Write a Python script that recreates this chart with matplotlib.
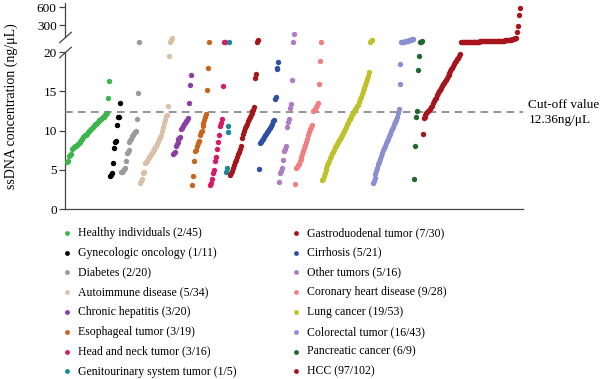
import numpy as np
import matplotlib
matplotlib.use("Agg")
import matplotlib.pyplot as plt
from matplotlib.transforms import blended_transform_factory

OUTPUT_PNG = "out.png"

plt.rcParams["font.family"] = ["Liberation Serif", "DejaVu Serif"]

CUTOFF = 12.36

# group names and point values (sorted)
labels = [
    "Healthy individuals (2/45)", "Gynecologic oncology (1/11)", "Diabetes (2/20)",
    "Autoimmune disease (5/34)", "Chronic hepatitis (3/20)", "Esophageal tumor (3/19)",
    "Head and neck tumor (3/16)", "Genitourinary system tumor (1/5)",
    "Gastroduodenal tumor (7/30)", "Cirrhosis (5/21)", "Other tumors (5/16)",
    "Coronary heart disease (9/28)", "Lung cancer (19/53)", "Colorectal tumor (16/43)",
    "Pancreatic cancer (6/9)", "HCC (97/102)",
]
colors = [
    "#3cb54a", "#000000", "#9b9b9b", "#d9c0a6", "#8c3fa3", "#c8641e",
    "#d81b66", "#16899a", "#a3161c", "#2f4ea4", "#b07cc6", "#f07f80",
    "#bfc12a", "#8a8fd2", "#1e6a2e", "#a8141c",
]

healthy = [6.0, 6.2, 6.8, 6.9, 7.0, 7.7, 7.8, 7.9, 8.0, 8.1, 8.2, 8.3, 8.4, 8.5, 8.6,
           8.8, 9.0, 9.2, 9.3, 9.4, 9.5, 9.6, 9.8, 10.0, 10.1, 10.2, 10.4, 10.5, 10.6,
           10.8, 10.9, 11.0, 11.1, 11.3, 11.4, 11.5, 11.6, 11.7, 11.8, 11.9, 12.0, 12.1,
           12.2, 14.1, 16.3]
gyneco = [4.2, 4.4, 4.6, 5.9, 7.8, 8.5, 8.7, 10.7, 11.7, 11.8, 13.5]
diabetes = [4.7, 4.8, 4.9, 5.1, 5.3, 6.1, 7.1, 7.3, 7.6, 8.6, 8.8, 9.0, 9.3, 9.5, 9.7,
            9.8, 9.9, 11.5, 14.8, 125]
autoimmune = [3.4, 3.6, 3.8, 4.6, 4.8, 5.9, 6.0, 6.2, 6.4, 6.6, 6.8, 7.0, 7.2, 7.4, 7.6,
              7.7, 7.9, 8.1, 8.3, 8.6, 8.9, 9.2, 9.5, 9.9, 10.5, 11.0, 11.3, 11.9, 12.0,
              13.2, 19.5, 127, 150, 170]
hepatitis = [7.0, 7.1, 7.3, 8.1, 8.3, 8.5, 8.9, 9.1, 9.2, 10.2, 10.4, 10.6, 10.8, 11.0,
             11.2, 11.4, 11.6, 13.5, 15.8, 17.1]
esophageal = [3.1, 4.2, 6.2, 7.4, 7.5, 8.0, 8.4, 8.7, 9.5, 9.8, 10.0, 10.6, 11.0, 11.4,
              11.8, 12.1, 15.2, 18.0, 125]
headneck = [3.1, 3.4, 3.8, 4.6, 5.0, 6.1, 6.6, 7.7, 8.6, 9.5, 10.6, 11.0, 11.5, 15.7,
            125, 126]
genito = [4.7, 5.2, 9.8, 10.6, 125]
gastro = [4.4, 4.6, 4.9, 5.2, 5.6, 6.0, 6.3, 6.6, 7.0, 7.3, 7.7, 8.0, 9.1, 9.6, 10.0,
          10.3, 10.6, 10.9, 11.2, 11.5, 11.8, 12.0, 12.2, 12.5, 12.6, 13.0, 16.7, 17.2,
          130, 150]
cirrhosis = [5.1, 8.4, 8.6, 8.8, 9.0, 9.2, 9.4, 9.6, 9.8, 10.0, 10.2, 10.4, 10.6, 10.9,
             11.2, 11.4, 14.0, 14.3, 17.8, 18.0, 18.7]
other = [3.5, 4.6, 4.9, 5.2, 6.3, 7.4, 7.7, 8.0, 10.5, 11.1, 11.5, 12.9, 13.4, 16.5,
         125, 210]
coronary = [3.2, 5.2, 5.4, 5.6, 5.8, 6.1, 6.4, 6.7, 7.0, 7.4, 7.8, 8.2, 8.6, 9.0, 9.4,
            9.8, 10.2, 10.5, 10.7, 12.5, 12.6, 12.8, 13.0, 13.3, 13.5, 16.0, 18.9, 125]
lung = [3.7, 3.9, 4.2, 4.6, 5.0, 5.3, 5.6, 5.9, 6.2, 6.5, 6.8, 7.1, 7.3, 7.6, 7.9, 8.1,
        8.3, 8.6, 8.8, 9.0, 9.2, 9.4, 9.7, 9.9, 10.2, 10.5, 10.8, 11.0, 11.3, 11.5, 11.7,
        11.9, 12.1, 12.3, 12.5, 12.7, 12.9, 13.1, 13.3, 13.6, 14.0, 14.3, 14.7, 15.0, 15.4,
        15.8, 16.2, 16.6, 17.0, 17.5, 130, 140, 150]
colorectal = [3.4, 3.6, 4.0, 4.5, 4.9, 5.3, 5.7, 6.0, 6.4, 6.8, 7.2, 7.5, 7.8, 8.1, 8.4,
              8.7, 9.0, 9.3, 9.6, 9.9, 10.2, 10.5, 10.8, 11.1, 11.4, 11.8, 12.2, 12.8,
              16.0, 18.5, 124, 126, 128, 130, 132, 134, 137, 140, 143, 146, 150, 153, 156]
pancreatic = [3.9, 8.0, 11.7, 12.5, 17.7, 19.5, 125, 130, 135]
hcc = [9.6, 11.6, 11.8, 12.0, 12.2,
       12.4, 12.5, 12.6, 12.8, 13.0, 13.2, 13.5, 13.8, 14.0, 14.2, 14.5, 14.8, 15.0, 15.2,
       15.4, 15.7, 15.9, 16.1, 16.3, 16.5, 16.7, 16.9, 17.1, 17.3, 17.6, 17.8, 18.0, 18.2,
       18.5, 18.7, 18.9, 19.1, 19.3, 19.5, 19.8,
       124, 124, 125, 125, 125, 126, 126, 126, 127, 127, 127, 128, 128, 128, 129, 129,
       129, 130, 130, 130, 131, 131, 131, 132, 132, 132, 133, 133, 133, 134, 134, 134,
       135, 135, 135, 136, 136, 137, 137, 138, 138, 139, 139, 140, 140, 141, 142, 143,
       144, 145, 146, 148, 150, 153, 156, 160, 165, 172,
       226, 290, 467, 590]

groups = [healthy, gyneco, diabetes, autoimmune, hepatitis, esophageal, headneck, genito,
          gastro, cirrhosis, other, coronary, lung, colorectal, pancreatic, hcc]

yticks = [0, 5, 10, 15, 20, 300, 600]

# piecewise broken scale: 0-20 linear, 20-300 and 300-600 squeezed on top
SCALE_IN = [0, 20, 300, 600, 800]
SCALE_OUT = [0, 20, 23.41, 25.71, 27.24]


def forward(v):
    return np.interp(v, SCALE_IN, SCALE_OUT)


def inverse(t):
    return np.interp(t, SCALE_OUT, SCALE_IN)


def make_plot():
    fig = plt.figure(figsize=(6, 3.79), dpi=100)
    ax = fig.add_axes([65 / 600, 1 - 209.3 / 379, 458 / 600, 206.3 / 379])
    ax.set_yscale("function", functions=(forward, inverse))

    start = 0
    handles = []
    for vals, col, lab in zip(groups, colors, labels):
        xs = np.arange(start, start + len(vals))
        h = ax.scatter(xs, vals, s=15, color=col, linewidths=0, label=lab, zorder=3)
        handles.append(h)
        start += len(vals)

    ax.set_xlim(-2.1, start + 2.5)
    ax.set_ylim(0, 670)
    ax.set_yticks(yticks)
    ax.set_yticklabels([str(t) for t in yticks])
    ax.set_xticks([])
    ax.tick_params(axis="y", direction="out", length=4, width=0.9, color="#444444",
                   labelsize=9.5, pad=2)

    for s in ["top", "right", "left"]:
        ax.spines[s].set_visible(False)
    ax.spines["bottom"].set_color("#444444")
    ax.spines["bottom"].set_linewidth(0.9)

    # left axis drawn by hand, with a gap and break marks
    trans = ax.get_yaxis_transform()
    ax.plot([0, 0], [0, 20], color="#444444", lw=0.9, transform=trans, clip_on=False)
    ax.plot([0, 0], [175, 670], color="#444444", lw=0.9, transform=trans, clip_on=False)
    ax.plot([0, 0], [20, 175], color="#444444", lw=0, marker=[(-1, -0.9), (1, 0.9)],
            markersize=9, mec="#444444", mew=0.9, transform=trans, clip_on=False)

    # cut-off line
    ax.axhline(CUTOFF, color="#777777", lw=1.1, ls=(0, (5, 3.5)), zorder=2)
    tr = blended_transform_factory(ax.transAxes, ax.transData)
    ax.text(1.012, CUTOFF, "Cut-off value\n12.36ng/\u03bcL", transform=tr,
            ha="left", va="center", fontsize=9.5, linespacing=1.35)

    ax.set_ylabel("ssDNA concentration (ng/\u03bcL)", fontsize=10)
    ax.yaxis.set_label_coords(-0.103, 0.5)

    fig.legend(handles=handles, ncol=2, loc="upper left",
               bbox_to_anchor=(60 / 600, 1 - 227 / 379), frameon=False,
               fontsize=8.5, markerscale=0.9, handletextpad=0.35, handlelength=1.2,
               labelspacing=0.66, columnspacing=4.43, borderaxespad=0, borderpad=0)

    fig.savefig(OUTPUT_PNG, dpi=100)
    plt.close(fig)


def main():
    make_plot()


if __name__ == "__main__":
    main()
